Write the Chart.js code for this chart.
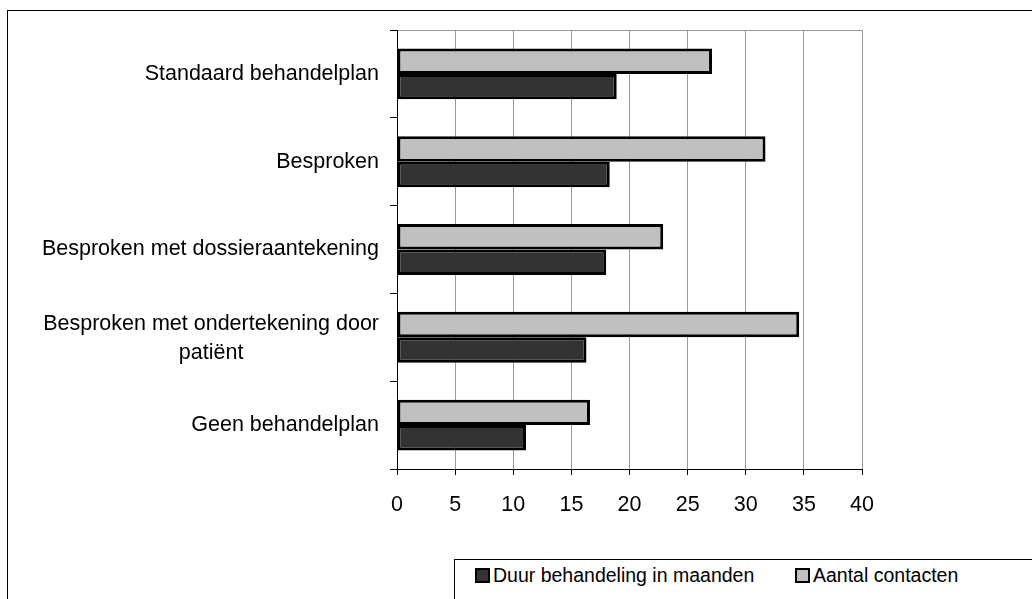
<!DOCTYPE html>
<html>
<head>
<meta charset="utf-8">
<script src="https://cdn.jsdelivr.net/npm/chart.js@4/dist/chart.umd.min.js"></script>
<style>
  html, body { margin: 0; padding: 0; background: #fff; overflow: hidden; }
  #frame { position: absolute; left: 7px; top: 10px; width: 1100px; height: 700px; border: 1px solid #000; }
  #wrap { position: absolute; left: 0; top: 0; width: 1032px; height: 599px; }
  #legend { position: absolute; left: 454px; top: 559px; width: 700px; height: 80px; border: 1px solid #000;
            background: #fff; font-family: 'Liberation Sans', Arial, sans-serif; font-size: 19.5px; color: #000; }
  #legend .item { position: absolute; top: 4px; display: flex; align-items: center; white-space: nowrap; }
  #legend .box { width: 11px; height: 11px; border: 2px solid #000; margin-right: 3px; }
</style>
</head>
<body>
<div id="frame"></div>
<div id="wrap"><canvas id="chart" width="1032" height="599"></canvas></div>
<div id="legend"></div>
<script>
// ==============================
// Data
// ==============================
const categories = [
    'Standaard behandelplan',
    'Besproken',
    'Besproken met dossieraantekening',
    ['Besproken met ondertekening door', 'patiënt'],
    'Geen behandelplan'
];
const aantalContacten = [27.1, 31.7, 22.9, 34.6, 16.6];
const duurMaanden = [18.9, 18.3, 18.0, 16.3, 11.1];
const xTicks = [0, 5, 10, 15, 20, 25, 30, 35, 40];

const fontFamily = "'Liberation Sans', Arial, sans-serif";
const font = { family: fontFamily, size: 21.5 };

// grey frame round the plot area (top and right edge)
const plotFrame = {
    id: 'plotFrame',
    beforeDraw(chart) {
        const a = chart.chartArea;
        const ctx = chart.ctx;
        ctx.save();
        ctx.strokeStyle = '#999';
        ctx.lineWidth = 1;
        ctx.strokeRect(Math.round(a.left) + 0.5, Math.round(a.top) + 0.5,
            Math.round(a.right - a.left), Math.round(a.bottom - a.top));
        ctx.restore();
    }
};

// category labels: single lines right aligned, wrapped labels centred in their block
const categoryLabels = {
    id: 'categoryLabels',
    afterDraw(chart) {
        const scale = chart.scales.y;
        const ctx = chart.ctx;
        const right = scale.right - 7 - 11;
        const lineH = 29;
        ctx.save();
        ctx.font = font.size + 'px ' + fontFamily;
        ctx.fillStyle = '#000';
        ctx.textBaseline = 'middle';
        chart.data.labels.forEach((lab, i) => {
            const y = scale.getPixelForTick(i);
            if (Array.isArray(lab)) {
                const w = Math.max(...lab.map(t => ctx.measureText(t).width));
                ctx.textAlign = 'center';
                lab.forEach((t, k) => {
                    ctx.fillText(t, right - w / 2, y + 1 + (k - (lab.length - 1) / 2) * lineH);
                });
            } else {
                ctx.textAlign = 'right';
                ctx.fillText(lab, right, y);
            }
        });
        ctx.restore();
    }
};

const ctx = document.getElementById('chart').getContext('2d');
const chart = new Chart(ctx, {
    type: 'bar',
    data: {
        labels: categories,
        datasets: [{
            label: 'Aantal contacten',
            data: aantalContacten,
            backgroundColor: '#c0c0c0',
            borderColor: '#000',
            borderWidth: 3,
            borderSkipped: false
        }, {
            label: 'Duur behandeling in maanden',
            data: duurMaanden,
            backgroundColor: '#333333',
            borderColor: '#000',
            borderWidth: 3,
            borderSkipped: false
        }]
    },
    options: {
        indexAxis: 'y',
        responsive: false,
        animation: false,
        categoryPercentage: 0.58,
        barPercentage: 1.0,
        layout: {
            padding: { left: 7, top: 30, right: 170, bottom: 70 }
        },
        plugins: {
            legend: { display: false },
            tooltip: { enabled: false }
        },
        scales: {
            x: {
                min: 0,
                max: 40,
                afterBuildTicks: s => { s.ticks = xTicks.map(v => ({ value: v })); },
                afterFit: s => { s.height = 60; },
                ticks: { color: '#000', font: font, padding: 17, maxRotation: 0 },
                grid: { color: '#999', tickColor: '#000', tickLength: 6 },
                border: { color: '#000', width: 1 }
            },
            y: {
                afterFit: s => { s.width = 390; },
                ticks: { display: false },
                grid: { offset: true, drawOnChartArea: false, tickColor: '#000', tickLength: 7 },
                border: { color: '#000', width: 1 }
            }
        }
    },
    plugins: [plotFrame, categoryLabels]
});

// legend, in the reverse order of the datasets
const legend = document.getElementById('legend');
const legendX = [20, 340];
chart.data.datasets.slice().reverse().forEach((ds, i) => {
    const item = document.createElement('div');
    item.className = 'item';
    item.style.left = legendX[i] + 'px';
    const box = document.createElement('span');
    box.className = 'box';
    box.style.background = ds.backgroundColor;
    const txt = document.createElement('span');
    txt.textContent = ds.label;
    item.appendChild(box);
    item.appendChild(txt);
    legend.appendChild(item);
});
</script>
</body>
</html>
